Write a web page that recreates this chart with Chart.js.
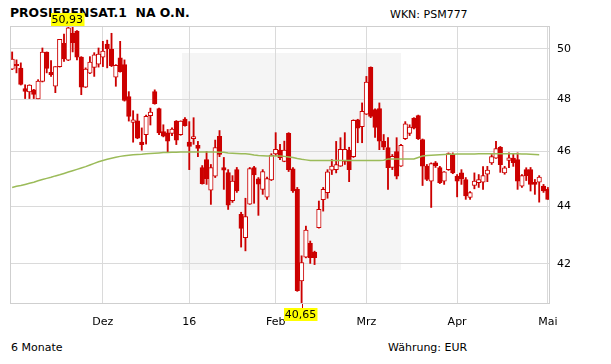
<!DOCTYPE html>
<html><head><meta charset="utf-8">
<script src="https://cdn.jsdelivr.net/npm/chart.js@4/dist/chart.umd.min.js"></script>
<style>
html,body{margin:0;padding:0;background:#fff;}
#wrap{position:relative;width:611px;height:364px;overflow:hidden;font-family:"DejaVu Sans",Verdana,sans-serif;color:#000;}
canvas{position:absolute;left:0;top:0;}
.t{position:absolute;white-space:pre;line-height:1;}
</style></head><body>
<div id="wrap">
<div class="t" style="left:10px;top:7px;font-size:12.4px;font-weight:bold;">PROSIEBENSAT.1  NA O.N.</div>
<div class="t" style="left:390px;top:9px;font-size:11px;">WKN: PSM777</div>
<div class="t" style="left:11px;top:342px;font-size:11px;">6 Monate</div>
<div class="t" style="left:388px;top:342px;font-size:11px;">Währung: EUR</div>
<canvas id="c" width="611" height="364"></canvas>
</div>
<script>
// Trading days (Xetra) per month
const tradingDays = {
  '2015-11': [2,3,4,5,6,9,10,11,12,13,16,17,18,19,20,23,24,25,26,27,30],
  '2015-12': [1,2,3,4,7,8,9,10,11,14,15,16,17,18,21,22,23,28,29,30],
  '2016-01': [4,5,6,7,8,11,12,13,14,15,18,19,20,21,22,25,26,27,28,29],
  '2016-02': [1,2,3,4,5,8,9,10,11,12,15,16,17,18,19,22,23,24,25,26,29],
  '2016-03': [1,2,3,4,7,8,9,10,11,14,15,16,17,18,21,22,23,24,29,30,31],
  '2016-04': [1,4,5,6,7,8,11,12,13,14,15,18,19,20,21,22,25,26,27,28,29],
  '2016-05': [2]
};
const monthKeys = ['2015-12','2016-01','2016-02','2016-03','2016-04','2016-05'];
const monthLabels = ['Dez','16','Feb','Mrz','Apr','Mai'];
const yTicks = [42,44,46,48,50];

const open = [
49.18,49.37,49.22,48.41,48.28,48.36,48.01,48.69,49.86,49.05,
48.50,49.28,50.22,49.54,50.63,50.72,49.66,48.47,49.02,49.25,
49.38,49.66,50.19,49.99,48.86,49.63,49.36,48.10,47.10,47.16,
46.35,46.63,47.36,48.29,47.63,46.75,46.70,46.68,47.15,46.63,
47.23,46.35,46.48,46.23,45.41,45.70,44.58,45.09,46.57,45.41,
45.22,44.20,45.33,43.72,42.90,44.08,45.41,44.99,44.61,44.33,
44.95,45.91,46.05,45.63,46.68,45.36,44.61,41.42,42.22,42.70,
42.40,43.25,44.24,44.49,45.31,45.33,45.46,45.63,46.05,45.81,
47.20,46.94,47.42,49.25,47.59,47.63,46.38,46.15,45.41,46.00,
45.46,46.48,46.68,47.27,47.36,46.45,45.46,44.91,45.58,45.41,
44.91,45.33,45.90,45.09,45.21,44.97,44.32,44.75,44.85,44.87,
45.16,45.58,45.75,46.16,45.21,45.67,45.76,45.70,44.73,45.33,
45.33,44.87,44.87,44.73,44.61];
const high = [
49.87,49.55,49.43,48.56,48.56,48.38,48.76,50.03,49.87,49.52,
49.28,50.38,50.60,50.93,50.89,50.74,49.68,49.23,49.68,49.84,
50.03,50.30,50.35,50.63,49.36,50.30,49.55,48.29,47.55,47.42,
46.89,47.38,47.65,48.36,47.65,47.01,46.83,46.89,47.17,47.16,
47.28,47.13,47.28,46.38,45.48,46.00,45.52,46.43,46.79,45.78,
45.33,45.11,45.41,43.79,44.29,45.41,45.45,45.04,45.33,45.06,
45.92,46.71,46.27,46.39,46.71,45.41,44.68,42.27,43.30,42.78,
42.43,44.19,44.68,45.33,45.70,46.38,46.52,46.71,46.16,47.20,
47.22,47.85,48.89,49.27,47.62,47.85,46.64,46.52,45.89,46.52,
46.27,47.13,47.01,47.28,47.38,46.47,45.52,45.58,45.63,45.45,
45.26,45.95,45.95,45.15,45.33,45.04,44.53,45.21,45.15,45.44,
45.45,45.89,46.38,46.19,45.45,45.95,45.90,45.95,45.15,45.40,
45.41,44.97,45.11,44.79,44.68];
const low = [
49.16,49.03,48.55,48.02,48.02,48.02,48.01,48.67,49.03,48.89,
48.25,49.26,49.49,49.52,49.87,49.55,48.17,48.45,49.00,48.89,
49.26,49.28,49.23,49.28,48.50,49.06,47.92,47.15,46.35,46.48,
46.05,46.28,47.00,47.80,46.63,46.55,45.98,46.60,46.26,46.61,
46.96,45.33,46.27,45.81,44.80,44.79,44.07,45.04,45.81,44.61,
43.89,44.14,44.50,42.57,42.44,44.07,44.11,43.68,44.43,44.25,
44.93,45.85,45.70,45.62,45.26,44.50,41.07,40.65,42.20,42.01,
41.97,43.23,43.83,44.29,45.15,45.21,45.45,45.52,44.89,45.78,
46.33,46.33,47.40,47.28,46.53,46.07,46.07,44.61,45.33,44.99,
45.45,46.45,46.60,46.85,46.45,44.75,44.93,43.96,45.41,44.82,
44.79,45.30,45.18,44.34,44.79,44.25,44.25,44.63,44.68,44.61,
44.89,45.52,45.74,45.23,45.16,45.40,45.45,44.61,44.68,44.93,
44.55,44.43,44.15,44.50,44.25];
const close = [
49.58,49.32,48.57,48.30,48.55,48.18,48.71,49.86,49.21,48.96,
49.28,50.38,49.59,50.85,50.25,49.66,48.47,49.18,49.46,49.75,
49.78,49.90,49.99,49.32,49.33,49.08,47.95,47.33,47.20,46.50,
46.26,47.33,47.50,47.82,46.70,46.58,46.39,46.85,46.43,47.15,
46.98,46.19,46.56,46.12,44.82,45.00,45.41,46.15,45.89,45.31,
44.04,44.91,44.55,43.22,43.64,45.37,45.14,44.80,45.26,45.00,
45.87,46.08,45.77,46.05,45.33,44.55,41.09,42.04,43.16,42.21,
42.21,43.89,44.61,45.25,45.46,45.52,46.08,46.08,45.33,47.18,
46.88,47.52,48.67,47.33,46.91,46.39,46.16,45.40,45.82,45.09,
46.23,47.05,46.92,46.88,46.48,45.46,44.97,45.55,45.48,44.85,
45.25,45.92,45.21,44.91,44.99,44.37,44.49,44.91,44.97,45.11,
45.31,45.81,46.11,45.51,45.40,45.77,45.59,44.91,45.11,45.11,
44.79,44.79,45.06,44.55,44.25];
// moving average (green line)
const movingAvg = [
44.68,44.72,44.75,44.79,44.83,44.87,44.92,44.97,45.01,45.05,
45.10,45.14,45.19,45.24,45.29,45.34,45.39,45.44,45.50,45.56,
45.62,45.67,45.71,45.75,45.79,45.82,45.84,45.86,45.88,45.89,
45.90,45.92,45.93,45.94,45.95,45.96,45.96,45.97,45.97,45.98,
45.98,45.98,45.98,45.98,45.98,45.98,45.98,45.98,45.97,45.97,
45.95,45.94,45.93,45.92,45.92,45.90,45.87,45.85,45.84,45.83,
45.83,45.83,45.83,45.82,45.80,45.78,45.74,45.71,45.69,45.67,
45.67,45.67,45.67,45.67,45.67,45.67,45.67,45.67,45.67,45.67,
45.67,45.67,45.67,45.67,45.67,45.67,45.68,45.72,45.72,45.72,
45.72,45.72,45.72,45.72,45.78,45.83,45.85,45.86,45.87,45.88,
45.89,45.90,45.90,45.91,45.91,45.91,45.91,45.91,45.92,45.92,
45.92,45.92,45.92,45.92,45.92,45.92,45.92,45.92,45.91,45.91,
45.90,45.89,45.88,null,null];

const labels = [];
const monthStartIdx = [];
Object.keys(tradingDays).forEach(k => {
  if (monthKeys.includes(k)) monthStartIdx.push(labels.length);
  tradingDays[k].forEach(d => labels.push(k + '-' + String(d).padStart(2,'0')));
});

const RED = '#cc0000';
const fmt = v => v.toFixed(2).replace('.', ',');

const decor = {
  id: 'decor',
  beforeDraw(chart) {
    const {ctx, chartArea: a} = chart;
    ctx.save();
    ctx.fillStyle = '#f5f5f5';
    const x0 = a.left + a.width * 0.3185, x1 = a.left + a.width * 0.724;
    const y0 = a.top + a.height * 0.097, y1 = a.top + a.height * 0.878;
    ctx.fillRect(x0, y0, x1 - x0, y1 - y0);
    ctx.restore();
  },
  afterDraw(chart) {
    const {ctx, chartArea: a, scales: {x, y}} = chart;
    ctx.save();
    ctx.strokeStyle = '#cfcfcf';
    ctx.lineWidth = 1;
    ctx.strokeRect(Math.round(a.left) + 0.5, Math.round(a.top) + 0.5, Math.round(a.width) - 1, Math.round(a.height) - 1);
    // extremes
    let hi = 0, lo = 0;
    high.forEach((v, i) => { if (v > high[hi]) hi = i; });
    low.forEach((v, i) => { if (v < low[lo]) lo = i; });
    ctx.font = '11px "DejaVu Sans"';
    ctx.textBaseline = 'middle';
    ctx.textAlign = 'center';
    // high label
    let t = fmt(high[hi]);
    let w = ctx.measureText(t).width + 2;
    let px = x.getPixelForValue(hi), py = y.getPixelForValue(high[hi]);
    ctx.fillStyle = '#ffff00';
    ctx.fillRect(Math.round(px - w / 2) - 1, py - 13, w, 13);
    ctx.fillStyle = '#000';
    ctx.fillText(t, px - 1, py - 6);
    // low label
    t = fmt(low[lo]);
    w = ctx.measureText(t).width + 2;
    px = x.getPixelForValue(lo); py = y.getPixelForValue(low[lo]);
    const by = a.bottom + 4;
    ctx.strokeStyle = RED;
    ctx.beginPath(); ctx.moveTo(Math.round(px) + 0.5, py); ctx.lineTo(Math.round(px) + 0.5, by); ctx.stroke();
    ctx.fillStyle = '#ffff00';
    ctx.fillRect(Math.round(px - w / 2) - 1, by, w, 13);
    ctx.fillStyle = '#000';
    ctx.fillText(t, px - 1, by + 7);
    ctx.restore();
  }
};

new Chart(document.getElementById('c'), {
  type: 'bar',
  data: {
    labels: labels,
    datasets: [
      {
        type: 'line', label: 'GD', data: movingAvg, borderColor: '#9bbb59', borderWidth: 1.5,
        pointRadius: 0, fill: false, tension: 0, order: 0
      },
      {
        label: 'Körper', data: open.map((o, i) => [o, close[i]]),
        backgroundColor: c => close[c.dataIndex] >= open[c.dataIndex] ? '#ffffff' : RED,
        borderColor: RED, borderWidth: 1, borderSkipped: false,
        barThickness: 4.5, grouped: false, order: 1
      },
      {
        label: 'Docht', data: low.map((l, i) => [l, high[i]]),
        backgroundColor: RED, borderWidth: 0, barThickness: 1.2, grouped: false, order: 2
      }
    ]
  },
  options: {
    responsive: false, animation: false,
    layout: { padding: { left: 10, top: 26, right: 0, bottom: 0 } },
    plugins: { legend: { display: false }, tooltip: { enabled: false } },
    scales: {
      x: {
        type: 'category', offset: true,
        grid: { offset: false, color: '#dadada', drawTicks: false },
        border: { display: false },
        afterBuildTicks: s => { s.ticks = monthStartIdx.map(i => ({ value: i })); },
        afterFit: s => { s.height = 60; },
        ticks: {
          autoSkip: false, maxRotation: 0, padding: 12, color: '#000',
          font: { family: 'DejaVu Sans', size: 11 },
          callback: (v, i) => monthLabels[i]
        }
      },
      y: {
        type: 'logarithmic', position: 'right', min: 40.65, max: 50.93,
        grid: { color: '#dadada', drawTicks: false },
        border: { display: false },
        afterBuildTicks: s => { s.ticks = yTicks.map(v => ({ value: v })); },
        afterFit: s => { s.width = 61; },
        ticks: {
          padding: 7, color: '#000',
          font: { family: 'DejaVu Sans', size: 11 },
          callback: v => String(v)
        }
      }
    }
  },
  plugins: [decor]
});
</script>
</body></html>
